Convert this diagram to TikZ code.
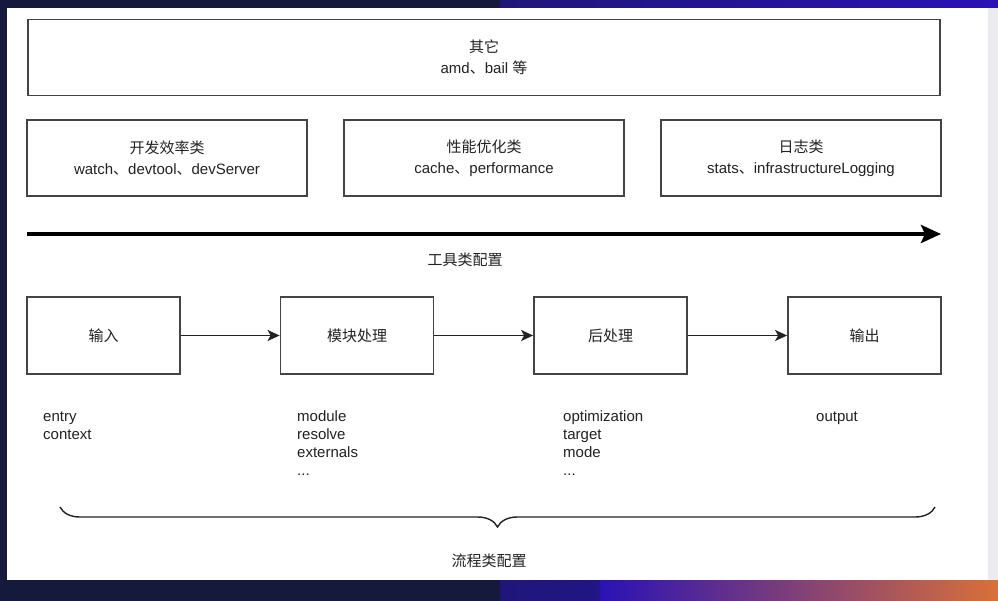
\documentclass[tikz,border=0pt]{standalone}
\usepackage{fontspec}
\setmainfont{Liberation Sans}
\newfontfamily\cjk{Noto Sans CJK SC}
\usepackage{tikz}
\usetikzlibrary{arrows.meta, calc, decorations.pathreplacing, positioning}

\definecolor{framebg}{HTML}{151A3D}
\definecolor{frameblue}{HTML}{2A12B4}
\definecolor{frameorange}{HTML}{D8703A}
\definecolor{sidegrey}{HTML}{EBEBF0}
\definecolor{linegrey}{HTML}{444444}
\definecolor{textdark}{HTML}{222222}

\tikzset{
  cfgbox/.style={draw=linegrey, line width=1.8pt, rectangle, align=center,
    minimum height=76pt, text=textdark, font=\fontsize{15}{21}\selectfont},
  flowbox/.style={cfgbox, minimum width=153pt, minimum height=77pt},
  listtext/.style={anchor=north west, align=left, inner sep=0pt, text=textdark,
    font=\fontsize{15}{18.3}\selectfont},
  caption/.style={text=textdark, font=\fontsize{15}{18}\selectfont},
  flowarrow/.style={-{Stealth[length=12pt, width=11pt, inset=3pt]}, line width=1.6pt, textdark},
}

\begin{document}
\begin{tikzpicture}[x=1pt, y=-1pt]
  % screenshot frame
  \useasboundingbox (0,0) rectangle (998,601);
  \shade[left color=framebg, right color=frameblue] (0,0) rectangle (998,601);
  \fill[framebg] (0,0) rectangle (500,601);
  \shade[left color=frameblue, right color=frameorange] (600,580) rectangle (998,601);
  \fill[sidegrey] (988,8) rectangle (998,580);
  \fill[white] (7,8) rectangle (988,580);

  % tool configs
  \node[cfgbox, minimum width=912pt] (other) at (484,57.5) {{\cjk 其它}\\amd{\cjk 、}bail {\cjk 等}};
  \node[cfgbox, minimum width=280pt] (dev) at (167,158) {{\cjk 开发效率类}\\watch{\cjk 、}devtool{\cjk 、}devServer};
  \node[cfgbox, minimum width=280pt] (perf) at (484,158) {{\cjk 性能优化类}\\cache{\cjk 、}performance};
  \node[cfgbox, minimum width=280pt] (log) at (801,158) {{\cjk 日志类}\\stats{\cjk 、}infrastructureLogging};

  % long arrow
  \coordinate (toolstart) at (27,234);
  \coordinate (toolend) at (941,234);
  \draw[-{Stealth[length=20pt, width=18pt, inset=4pt]}, line width=4.5pt] (toolstart) -- (toolend);
  \node[caption] (toollabel) at (465,260) {\cjk 工具类配置};

  % flow
  \node[flowbox] (input) at (103.5,335.5) {\cjk 输入};
  \node[flowbox] (module) at (357,335.5) {\cjk 模块处理};
  \node[flowbox] (post) at (610.5,335.5) {\cjk 后处理};
  \node[flowbox] (output) at (864.5,335.5) {\cjk 输出};
  \draw[flowarrow] (input) -- (module);
  \draw[flowarrow] (module) -- (post);
  \draw[flowarrow] (post) -- (output);

  % option lists
  \node[listtext] (inputlist) at (43,408) {\strut entry\\context};
  \node[listtext] (modulelist) at (297,408) {\strut module\\resolve\\externals\\...};
  \node[listtext] (postlist) at (563,408) {\strut optimization\\target\\mode\\...};
  \node[listtext] (outputlist) at (816,408) {\strut output};

  % brace
  \coordinate (bracestart) at (60,507);
  \coordinate (braceend) at (935,507);
  \draw[decorate, decoration={brace, mirror, amplitude=20pt}, line width=1.4pt, textdark] (bracestart) -- (braceend);
  \node[caption] (flowlabel) at (489,561) {\cjk 流程类配置};
\end{tikzpicture}
\end{document}
